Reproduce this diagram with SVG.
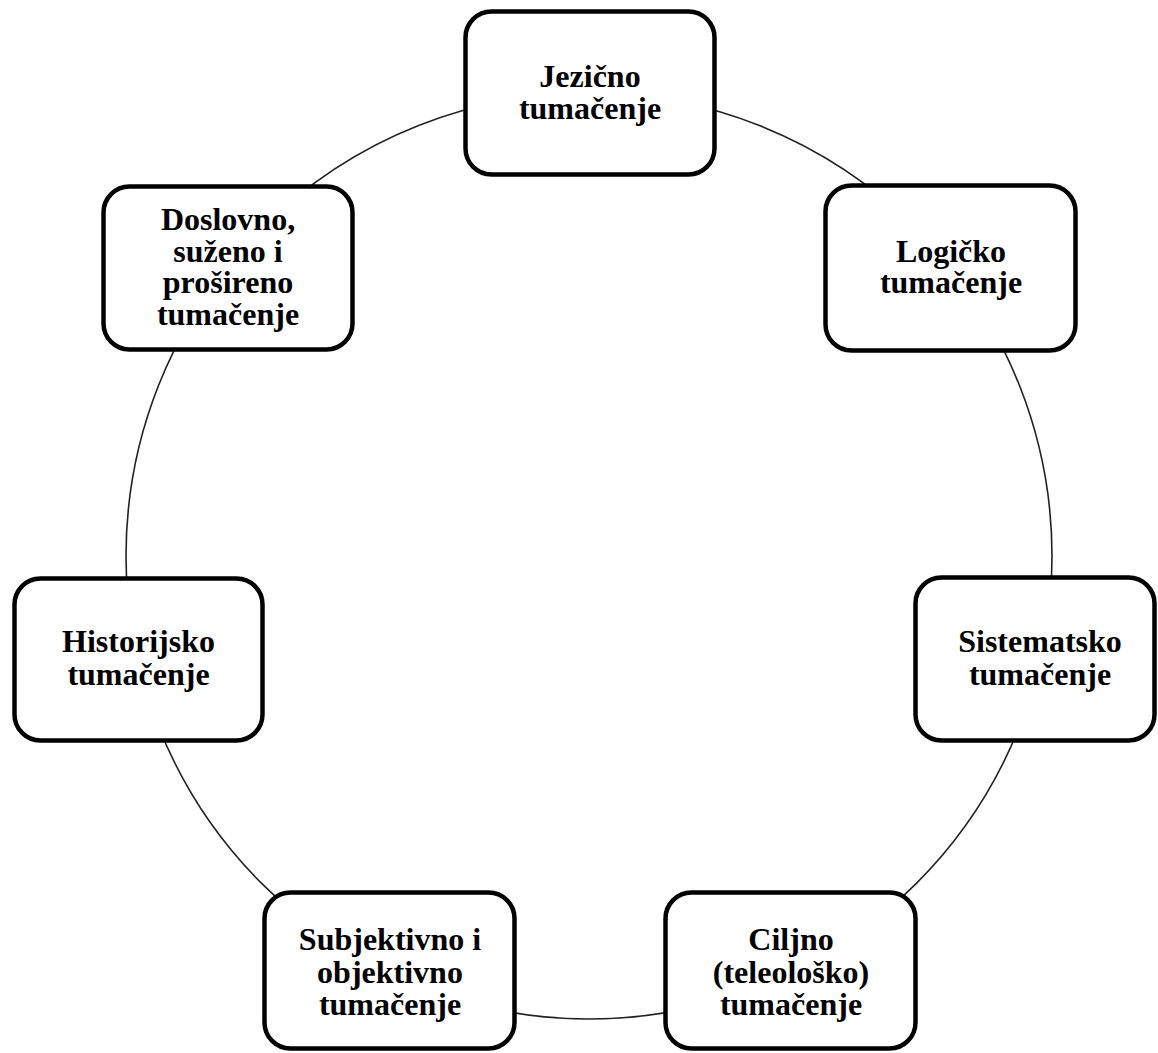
<svg xmlns="http://www.w3.org/2000/svg" width="1158" height="1053" viewBox="0 0 1158 1053">
<style>
.box{fill:#fff;stroke:#000;stroke-width:4.5}
.ring{fill:none;stroke:#222;stroke-width:1.6}
text{font-family:"Liberation Serif","Times New Roman",serif;font-weight:bold;font-size:32px;fill:#000;text-anchor:middle}
</style>
<rect width="1158" height="1053" fill="#fff"/>
<g id="connectors">
<circle class="ring" cx="589" cy="556" r="463"/>
</g>
<g id="node-jezicno">
<rect class="box" x="465.5" y="11.5" width="249" height="163" rx="26"/>
<text x="590" y="87">Jezično</text>
<text x="590" y="119">tumačenje</text>
</g>
<g id="node-logicko">
<rect class="box" x="825.5" y="185.5" width="250" height="165" rx="26"/>
<text x="951" y="262">Logičko</text>
<text x="951" y="293">tumačenje</text>
</g>
<g id="node-sistematsko">
<rect class="box" x="915.5" y="577.5" width="239" height="163" rx="26"/>
<text x="1040" y="652">Sistematsko</text>
<text x="1040" y="685">tumačenje</text>
</g>
<g id="node-ciljno">
<rect class="box" x="665.5" y="892.5" width="250" height="156" rx="26"/>
<text x="791" y="950">Ciljno</text>
<text x="791" y="983">(teleološko)</text>
<text x="791" y="1015">tumačenje</text>
</g>
<g id="node-subjektivno">
<rect class="box" x="264.5" y="892.5" width="250" height="156" rx="26"/>
<text x="390" y="950">Subjektivno i</text>
<text x="390" y="983">objektivno</text>
<text x="390" y="1015">tumačenje</text>
</g>
<g id="node-historijsko">
<rect class="box" x="14.5" y="578.5" width="248" height="162" rx="26"/>
<text x="138.5" y="652">Historijsko</text>
<text x="138.5" y="685">tumačenje</text>
</g>
<g id="node-doslovno">
<rect class="box" x="103.5" y="186.5" width="249" height="163" rx="26"/>
<text x="228" y="230">Doslovno,</text>
<text x="228" y="262">suženo i</text>
<text x="228" y="293">prošireno</text>
<text x="228" y="325">tumačenje</text>
</g>
</svg>
